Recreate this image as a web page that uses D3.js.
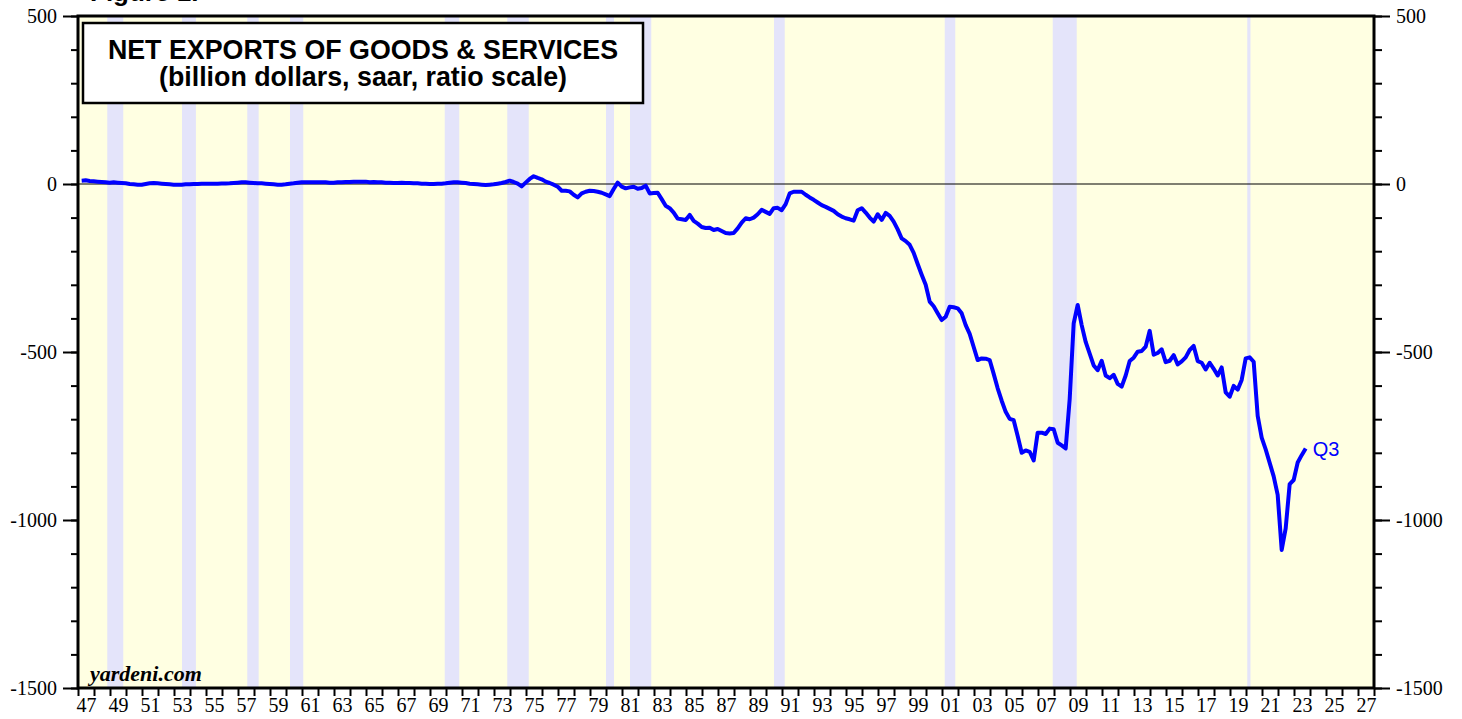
<!DOCTYPE html>
<meta charset="utf-8">
<script src="https://d3js.org/d3.v7.min.js"></script>
<style>
  body { margin: 0; background: #fff; }
  .tick line { stroke: #000; stroke-width: 2; }
  .tick text { font-family: "Liberation Serif", "Times New Roman", serif; font-size: 20px; fill: #000; }
</style>
<div id="chart"></div>
<script>

// quarterly net exports, billion $, saar (Q1..Q4 per year)
var startYear = 1947;
var q1940s = [10, 11, 9, 8,  7, 6, 5, 4,  5, 4, 3, 2];
var q1950s = [0, -1, -2, -2,  0, 2, 3, 2,  1, 0, -1, -2,  -2, -2, -1, -1,  0, 0, 1, 1,
              1, 1, 1, 1.5,  1.5, 2, 3, 4,  5, 5, 4, 3,  2, 2, 1, 0,  -1, -2, -2, -1];
var q1960s = [1, 2, 4, 5,  5, 5, 5, 5,  5, 5, 4, 4,  5, 5, 6, 6,  7, 7, 7, 7,
              5, 6, 5, 5,  4, 4, 3, 3,  4, 3, 3, 2,  2, 1, 1, 0,  0, 1, 1, 2];
var q1970s = [4, 5, 5, 4,  3, 1, 0, -1,  -2, -3, -2, -1,  1, 3, 6, 10,  6, 1, -7, 4,
              15, 23, 18, 14,  7, 3, -2, -8,  -20, -20, -22, -32,  -40, -28, -23, -20,  -21, -23, -26, -31];
var q1980s = [-36, -15, 4, -8,  -13, -10, -8, -14,  -12, -5, -28, -27,  -26, -45, -65, -72,
              -85, -103, -105, -107,  -92, -110, -118, -128,  -131, -130, -137, -134,
              -140, -146, -147, -146,  -132, -115, -102, -105,  -100, -90, -77, -83];
var q1990s = [-89, -72, -71, -78,  -60, -28, -23, -23,  -23, -32, -40, -47,  -55, -63, -68, -74,
              -80, -90, -97, -102,  -105, -109, -78, -72,  -85, -100, -112, -90,
              -107, -86, -95, -112,  -135, -162, -170, -181,  -205, -238, -270, -300];
var q2000s = [-350, -364, -385, -405,  -395, -365, -367, -370,  -385, -420, -446, -485,
              -524, -519, -520, -524,  -565, -608, -645, -678,  -699, -703, -750, -800,
              -793, -797, -823, -740,  -740, -744, -728, -730,  -770, -778, -787, -640,
              -415, -360, -420, -470];
var q2010s = [-505, -540, -554, -526,  -570, -578, -568, -595,  -603, -570, -527, -517,
              -499, -497, -484, -437,  -508, -503, -492, -530,  -526, -509, -537, -528,
              -516, -494, -482, -527,  -532, -552, -532, -550,  -570, -546, -620, -633,
              -601, -612, -583, -519];
var q2020s = [-516, -529, -690, -755,  -790, -830, -870, -925,  -1089, -1025, -893, -881,
              -829, -807, -787];

// NBER recessions (decimal years)
var recessions = [[1948.83, 1949.83], [1953.5, 1954.37], [1957.58, 1958.29], [1960.25, 1961.08],
                  [1969.92, 1970.83], [1973.83, 1975.17], [1980.0, 1980.5], [1981.5, 1982.83],
                  [1990.5, 1991.17], [2001.17, 2001.83], [2007.92, 2009.42], [2020.08, 2020.28]];

var yLabels = [500, 0, -500, -1000, -1500];
var xLabels = d3.range(1947, 2028, 2);

var values = [].concat(q1940s, q1950s, q1960s, q1970s, q1980s, q1990s, q2000s, q2010s, q2020s);
var data = values.map(function(v, i) {
  return { t: startYear + Math.floor(i / 4) + (i % 4) / 4 + 0.23, v: v };
});

var W = 1462, H = 719;
var margin = {top: 16, right: 88, bottom: 31, left: 78},
    width = W - margin.left - margin.right,
    height = H - margin.top - margin.bottom;

var svg = d3.select("#chart").append("svg")
    .attr("width", W).attr("height", H)
  .append("g")
    .attr("transform", "translate(" + margin.left + "," + margin.top + ")");

var x = d3.scaleLinear().domain([1947, 2028]).range([0, width]);
var y = d3.scaleLinear().domain([-1500, 500]).range([height, 0]);

// background + recession shading
svg.append("rect").attr("width", width).attr("height", height).attr("fill", "#FFFFE2");
svg.selectAll(".rec").data(recessions).enter().append("rect")
    .attr("x", function(d) { return x(d[0]); })
    .attr("width", function(d) { return Math.max(2, x(d[1]) - x(d[0])); })
    .attr("y", 0).attr("height", height)
    .attr("fill", "#E4E4FA");

// zero line
svg.append("line")
    .attr("x1", 0).attr("x2", width)
    .attr("y1", y(0)).attr("y2", y(0))
    .attr("stroke", "#000").attr("stroke-width", 1.2);

// series
svg.append("path").datum(data)
    .attr("fill", "none")
    .attr("stroke", "#0000FF")
    .attr("stroke-width", 4)
    .attr("stroke-linejoin", "round")
    .attr("d", d3.line().x(function(d) { return x(d.t); }).y(function(d) { return y(d.v); }));

var last = data[data.length - 1];
svg.append("text")
    .attr("x", x(last.t) + 7).attr("y", y(last.v) + 8)
    .attr("font-family", "Liberation Sans, Arial, sans-serif")
    .attr("font-size", 20).attr("fill", "#0000FF")
    .text("Q3");

// axes
var plain = function(d) { return String(d); };
var minorY = d3.range(-1500, 501, 100);
svg.append("g").call(d3.axisLeft(y).tickValues(minorY).tickSize(7).tickFormat(""));
svg.append("g").call(d3.axisLeft(y).tickValues(yLabels).tickSize(15).tickPadding(6).tickFormat(plain));
svg.append("g").attr("transform", "translate(" + width + ",0)")
    .call(d3.axisRight(y).tickValues(minorY).tickSize(8).tickFormat(""));
svg.append("g").attr("transform", "translate(" + width + ",0)")
    .call(d3.axisRight(y).tickValues(yLabels).tickSize(16).tickPadding(6).tickFormat(plain));

svg.append("g").attr("transform", "translate(0," + height + ")")
    .call(d3.axisBottom(x).tickValues(d3.range(1947, 2029)).tickSize(8).tickFormat(""));
svg.append("g").attr("transform", "translate(0," + height + ")")
    .call(d3.axisBottom(x).tickValues(xLabels.map(function(d) { return d + 0.5; }))
      .tickSize(0).tickPadding(10)
      .tickFormat(function(d) { return d3.format("02d")(Math.floor(d) % 100); }))
    .selectAll("line").remove();

svg.selectAll(".domain").remove();

// frame
svg.append("rect").attr("width", width).attr("height", height)
    .attr("fill", "none").attr("stroke", "#000").attr("stroke-width", 3);

// title box
svg.append("rect").attr("x", 5).attr("y", 7).attr("width", 560).attr("height", 80)
    .attr("fill", "#fff").attr("stroke", "#000").attr("stroke-width", 2.5);
var title = svg.append("text")
    .attr("text-anchor", "middle")
    .attr("font-family", "Liberation Sans, Arial, sans-serif")
    .attr("font-weight", "bold").attr("font-size", 26.8);
title.append("tspan").attr("x", 285).attr("y", 43).text("NET EXPORTS OF GOODS & SERVICES");
title.append("tspan").attr("x", 285).attr("y", 70).text("(billion dollars, saar, ratio scale)");

svg.append("text")
    .attr("x", 12).attr("y", height - 7)
    .attr("font-family", "Liberation Serif, Times New Roman, serif")
    .attr("font-weight", "bold").attr("font-style", "italic").attr("font-size", 22)
    .text("yardeni.com");

// figure caption (cut off at top of page, as in the source)
d3.select("svg").append("text")
    .attr("x", 90).attr("y", 1)
    .attr("font-family", "Liberation Sans, Arial, sans-serif")
    .attr("font-weight", "bold").attr("font-size", 26)
    .text("Figure 1.");

</script>
